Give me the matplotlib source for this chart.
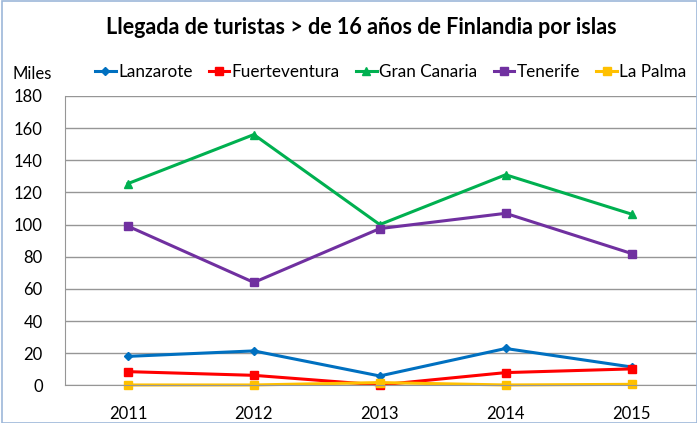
import matplotlib
matplotlib.use("Agg")
import matplotlib.pyplot as plt
from matplotlib.patches import Rectangle

years = ["2011", "2012", "2013", "2014", "2015"]
lanzarote = [18, 21.4, 5.8, 22.9, 11.4]
fuerteventura = [8.5, 6.2, 0.2, 7.9, 10.2]
gran_canaria = [125.5, 156, 100, 131, 106.5]
tenerife = [99, 64, 97.5, 107, 82]
la_palma = [0.2, 0.2, 1.7, 0.2, 0.6]
yticks = [0, 20, 40, 60, 80, 100, 120, 140, 160, 180]

series = [
    ("Lanzarote", lanzarote, "#0070C0", "D", 4.5),
    ("Fuerteventura", fuerteventura, "#FF0000", "s", 6),
    ("Gran Canaria", gran_canaria, "#00B050", "^", 6),
    ("Tenerife", tenerife, "#7030A0", "s", 6),
    ("La Palma", la_palma, "#FFC000", "s", 6),
]

plt.rcParams['font.family'] = ['Lato', 'DejaVu Sans']

fig = plt.figure(figsize=(6.97, 4.23), dpi=100)
W, H = 697, 423
ax = fig.add_axes([65 / W, (H - 385.3) / H, (697 - 65) / W, (385.3 - 96) / H])

x = list(range(len(years)))
for name, vals, col, mk, ms in series:
    ax.plot(x, vals, color=col, lw=2.2, marker=mk, markersize=ms, label=name,
            markerfacecolor=col, markeredgecolor=col, clip_on=False)

ax.set_xlim(-0.5, 4.5 + 0.02)
ax.set_ylim(0, 180)
ax.set_yticks(yticks)
ax.set_xticks(x)
ax.set_xticklabels(years)
ax.tick_params(axis='both', length=0, labelsize=12, colors='black')
ax.tick_params(axis='y', pad=16)
ax.tick_params(axis='x', pad=15)
ax.grid(axis='y', color='#969696', lw=1)
ax.set_axisbelow(True)
for s in ['top', 'right']:
    ax.spines[s].set_visible(False)
ax.spines['left'].set_color('#969696')
ax.spines['bottom'].set_color('#969696')

fig.text(361 / W, 1 - 27 / H, "Llegada de turistas > de 16 años de Finlandia por islas",
         ha='center', va='center', fontsize=15.5, fontweight='bold')
fig.text(12 / W, 1 - 74 / H, "Miles", ha='left', va='center', fontsize=12)

leg = fig.legend(loc='center left', bbox_to_anchor=(95 / W, 1 - 72 / H), ncol=5,
                 frameon=False, fontsize=12.3, handlelength=1.2, handletextpad=0.15,
                 columnspacing=0.95, borderaxespad=0, borderpad=0)

fig.patches.append(Rectangle((2 / W, 0), 1 - 2 / W, 1 - 1 / H, transform=fig.transFigure,
                             fill=False, edgecolor='#9DB7D9', lw=1.2))

fig.savefig("out.png", dpi=100)
